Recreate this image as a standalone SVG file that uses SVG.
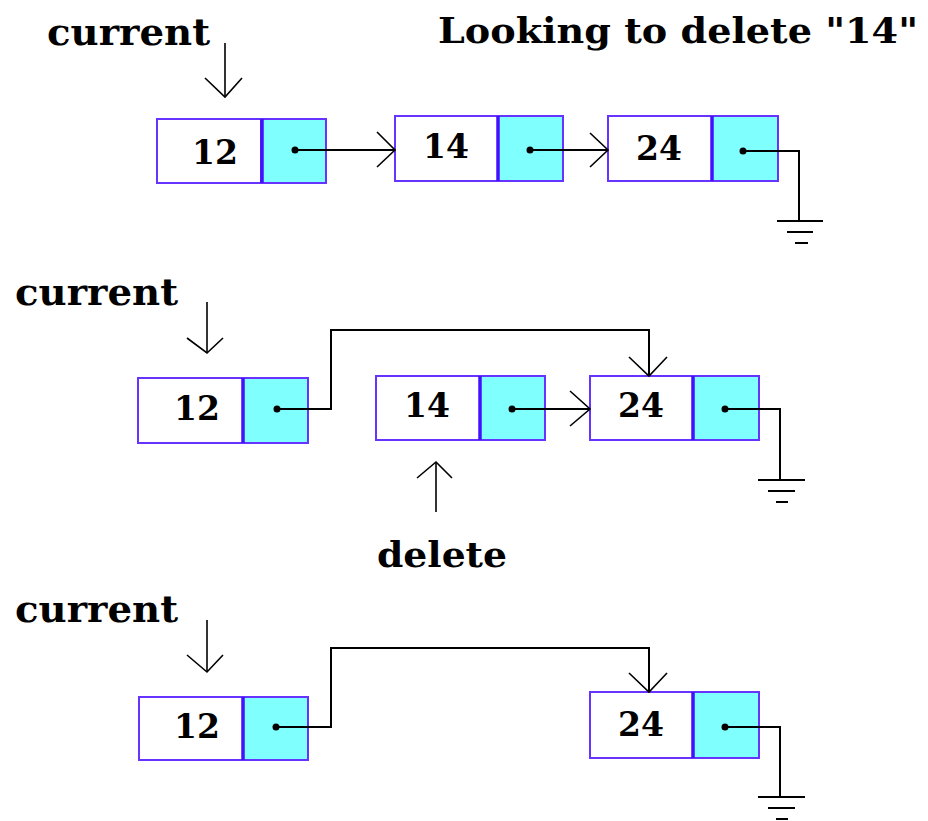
<svg xmlns="http://www.w3.org/2000/svg" width="928" height="821" viewBox="0 0 928 821">
<style>
.lbl{font-family:"DejaVu Serif","Liberation Serif",serif;font-weight:bold;fill:#000}
.num{font-family:"DejaVu Serif","Liberation Serif",serif;font-weight:bold;font-size:33px;fill:#000;text-anchor:middle}
.data{fill:#fff;stroke:#6633ff;stroke-width:2}
.ptr{fill:#80ffff;stroke:#6633ff;stroke-width:2}
.div{stroke:#4411ff;stroke-width:3.5}
.ln{fill:none;stroke:#000;stroke-width:2}
.hd{fill:none;stroke:#000;stroke-width:1.6}
.dot{fill:#000}
</style>
<rect width="928" height="821" fill="#fff"/>

<!-- labels -->
<text class="lbl" x="47" y="45" font-size="37" textLength="163" lengthAdjust="spacingAndGlyphs">current</text>
<text class="lbl" x="438" y="43" font-size="36" textLength="480" lengthAdjust="spacingAndGlyphs">Looking to delete "14"</text>
<text class="lbl" x="15" y="305" font-size="37" textLength="163" lengthAdjust="spacingAndGlyphs">current</text>
<text class="lbl" x="377" y="567" font-size="36" textLength="130" lengthAdjust="spacingAndGlyphs">delete</text>
<text class="lbl" x="15" y="622" font-size="37" textLength="163" lengthAdjust="spacingAndGlyphs">current</text>

<!-- row 1 nodes -->
<g id="r1-n12">
<rect class="data" x="157" y="119" width="104" height="64"/>
<rect class="ptr" x="262" y="119" width="64" height="64"/>
<line class="div" x1="262" y1="119" x2="262" y2="183"/>
<text class="num" x="215" y="164">12</text>
<circle class="dot" cx="295" cy="150" r="3.5"/>
</g>
<g id="r1-n14">
<rect class="data" x="395" y="116" width="103" height="65"/>
<rect class="ptr" x="498" y="116" width="65" height="65"/>
<line class="div" x1="498" y1="116" x2="498" y2="181"/>
<text class="num" x="446" y="158">14</text>
<circle class="dot" cx="530" cy="150" r="3.5"/>
</g>
<g id="r1-n24">
<rect class="data" x="608" y="116" width="104" height="65"/>
<rect class="ptr" x="712" y="116" width="66" height="65"/>
<line class="div" x1="712" y1="116" x2="712" y2="181"/>
<text class="num" x="659" y="160">24</text>
<circle class="dot" cx="743" cy="151" r="3.5"/>
</g>

<!-- row 2 nodes -->
<g id="r2-n12">
<rect class="data" x="138" y="378" width="105" height="65"/>
<rect class="ptr" x="243" y="378" width="65" height="65"/>
<line class="div" x1="243" y1="378" x2="243" y2="443"/>
<text class="num" x="197" y="420">12</text>
<circle class="dot" cx="277" cy="409" r="3.5"/>
</g>
<g id="r2-n14">
<rect class="data" x="376" y="376" width="104" height="64"/>
<rect class="ptr" x="480" y="376" width="65" height="64"/>
<line class="div" x1="480" y1="376" x2="480" y2="440"/>
<text class="num" x="427" y="417">14</text>
<circle class="dot" cx="512" cy="409" r="3.5"/>
</g>
<g id="r2-n24">
<rect class="data" x="590" y="376" width="103" height="64"/>
<rect class="ptr" x="693" y="376" width="66" height="64"/>
<line class="div" x1="693" y1="376" x2="693" y2="440"/>
<text class="num" x="641" y="417">24</text>
<circle class="dot" cx="725" cy="409" r="3.5"/>
</g>

<!-- row 3 nodes -->
<g id="r3-n12">
<rect class="data" x="139" y="697" width="104" height="63"/>
<rect class="ptr" x="243" y="697" width="65" height="63"/>
<line class="div" x1="243" y1="697" x2="243" y2="760"/>
<text class="num" x="197" y="738">12</text>
<circle class="dot" cx="276" cy="727" r="3.5"/>
</g>
<g id="r3-n24">
<rect class="data" x="590" y="692" width="103" height="66"/>
<rect class="ptr" x="693" y="692" width="66" height="66"/>
<line class="div" x1="693" y1="692" x2="693" y2="758"/>
<text class="num" x="641" y="736">24</text>
<circle class="dot" cx="725" cy="727" r="3.5"/>
</g>

<!-- connectors -->
<g id="connectors">
<line class="hd" x1="225" y1="43" x2="225" y2="97"/>
<polyline class="hd" points="205,78 225,97 242,78"/>
<line class="hd" x1="207" y1="302" x2="207" y2="353"/>
<polyline class="hd" points="187,338 207,353 223,338"/>
<line class="hd" x1="207" y1="620" x2="207" y2="672"/>
<polyline class="hd" points="187,655 207,672 223,655"/>
<line class="hd" x1="436" y1="512" x2="436" y2="462"/>
<polyline class="hd" points="417,478 436,462 452,478"/>

<line class="ln" x1="295" y1="150" x2="395" y2="150"/>
<polyline class="hd" points="377,132 395,150 377,167"/>
<line class="ln" x1="530" y1="150" x2="608" y2="150"/>
<polyline class="hd" points="590,133 608,150 590,167"/>
<polyline class="ln" points="743,151 799,151 799,221"/>
<line class="ln" x1="777" y1="221" x2="823" y2="221"/>
<line class="ln" x1="787" y1="232" x2="813" y2="232"/>
<line class="ln" x1="795" y1="243" x2="808" y2="243"/>

<polyline class="ln" points="277,409 331,409 331,330 649,330 649,376"/>
<polyline class="hd" points="629,357 649,376 667,357"/>
<line class="ln" x1="512" y1="409" x2="590" y2="409"/>
<polyline class="hd" points="570,391 590,409 570,426"/>
<polyline class="ln" points="725,409 780,409 780,480"/>
<line class="ln" x1="758" y1="480" x2="805" y2="480"/>
<line class="ln" x1="768" y1="491" x2="795" y2="491"/>
<line class="ln" x1="776" y1="502" x2="788" y2="502"/>

<polyline class="ln" points="276,727 331,727 331,648 649,648 649,692"/>
<polyline class="hd" points="629,673 649,692 667,673"/>
<polyline class="ln" points="725,727 780,727 780,797"/>
<line class="ln" x1="758" y1="797" x2="805" y2="797"/>
<line class="ln" x1="768" y1="808" x2="795" y2="808"/>
<line class="ln" x1="776" y1="819" x2="788" y2="819"/>
</g>
</svg>
